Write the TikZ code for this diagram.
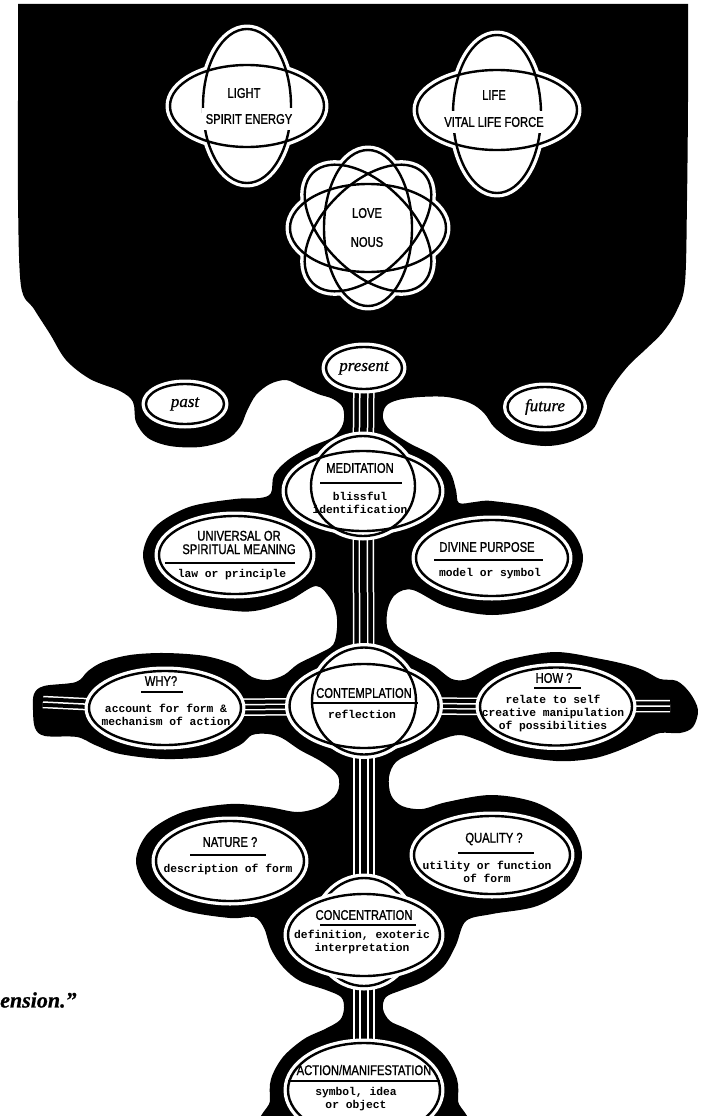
\documentclass[tikz,border=0pt]{standalone}
\usepackage{fontspec}
\usetikzlibrary{shapes.geometric}
\newfontfamily\capfont[FakeStretch=0.8,FakeBold=1.2]{Liberation Sans}
\newfontfamily\typefont{Liberation Mono}
\newfontfamily\handfont[FakeBold=0.8]{Liberation Serif}
\pgfdeclarelayer{bg}
\pgfsetlayers{bg,main}
\begin{document}
\begin{tikzpicture}[x=1pt,y=-1pt,line join=round,
  halo/.style={ellipse,inner sep=0pt,outer sep=0pt,fill=white,draw=white,line width=9pt},
  bubble/.style={halo,line width=3.3pt,double=black,double distance=2.4pt},
  ringline/.style={draw=black,line width=2.4pt},
  head/.style={font=\capfont\fontsize{14}{13.5}\selectfont,align=center,inner sep=0pt},
  body/.style={font=\typefont\bfseries\fontsize{11.3}{13}\selectfont,align=center,inner sep=0pt},
  hand/.style={font=\handfont\itshape\fontsize{17}{19}\selectfont},
  hrule/.style={line width=1.3pt},
  tube/.style={draw=black,line width=6.5pt,preaction={draw=white,line width=21.5pt},
    preaction={draw=black,line width=18.5pt},preaction={draw=white,line width=9.5pt}},
  arm/.style={draw=black,line width=3.5pt,preaction={draw=white,line width=17.5pt},
    preaction={draw=black,line width=14.5pt},preaction={draw=white,line width=6.5pt}},
  tiptube/.style={draw=white,line width=1.5pt,preaction={draw=white,line width=12.5pt},
    preaction={draw=black,line width=9.5pt}}]
\useasboundingbox (0,0) rectangle (701,1116);
%%
%% upper field
\node (light) at (247,106) [halo,minimum width=154,minimum height=82] {};
\node (light-v) at (247,106) [halo,minimum width=88,minimum height=154] {};
\node (life) at (497,110) [halo,minimum width=160,minimum height=80] {};
\node (life-v) at (497,114) [halo,minimum width=88,minimum height=158] {};
\foreach \a/\n in {0/a,45/b,90/c,135/d}
  \node (love-\n) at (368,228) [halo,rotate=\a,minimum width=156,minimum height=88] {};
\draw[ringline] (light.center) ellipse [x radius=77,y radius=41];
\draw[ringline] (light-v.center) ellipse [x radius=44,y radius=77];
\draw[ringline] (life.center) ellipse [x radius=80,y radius=40];
\draw[ringline] (life-v.center) ellipse [x radius=44,y radius=79];
\foreach \a in {0,45,90,135}
  \draw[ringline,rotate around={\a:(love-a.center)}] (love-a.center) ellipse [x radius=78,y radius=44];
\node (light-t) at (244,93) [head] {LIGHT};
\node (light-s) at (249,119) [head,fill=white,inner xsep=4pt,inner ysep=6pt] {SPIRIT ENERGY};
\node (life-t) at (494,95) [head] {LIFE};
\node (life-s) at (494,122) [head,fill=white,inner xsep=4pt,inner ysep=6pt] {VITAL LIFE FORCE};
\node (love-t) at (367,213) [head] {LOVE};
\node (nous-t) at (367,242) [head] {NOUS};
%
\node (present) at (364,368) [bubble,hand,minimum width=76,minimum height=42] {present};
\node (past) at (185,404) [bubble,hand,minimum width=78,minimum height=40] {past};
\node (future) at (545,407) [bubble,hand,minimum width=75,minimum height=40] {future};
%%
%% the tree
\node (meditation) at (363,491) [halo,minimum width=154,minimum height=80] {};
\node (meditation-v) at (363,486) [halo,minimum width=104,minimum height=100] {};
\draw[ringline] (meditation.center) ellipse [x radius=77,y radius=40];
\draw[ringline] (meditation-v.center) ellipse [x radius=52,y radius=50];
\node (meditation-h) at (360,468) [head] {MEDITATION};
\draw[hrule] (320,483) -- (402,483);
\node (meditation-b) at (360,503) [body] {blissful\\identification};
%
\node (universal) at (235,555) [bubble,minimum width=152,minimum height=78] {};
\node (universal-h) at (239,542.5) [head] {UNIVERSAL OR\\SPIRITUAL MEANING};
\draw[hrule] (165,563) -- (295,563);
\node (universal-b) at (232,575) [body] {law or principle};
\node (divine) at (492,558) [bubble,minimum width=152,minimum height=76] {};
\node (divine-h) at (487,547) [head] {DIVINE PURPOSE};
\draw[hrule] (434,560) -- (543,560);
\node (divine-b) at (490,574) [body] {model or symbol};
%
\node (contemplation) at (364,706) [halo,minimum width=149,minimum height=84] {};
\node (contemplation-v) at (364,701) [halo,minimum width=104,minimum height=107] {};
\draw[ringline] (contemplation.center) ellipse [x radius=74.5,y radius=42];
\draw[ringline] (contemplation-v.center) ellipse [x radius=52,y radius=53.5];
\node (contemplation-h) at (364,693) [head] {CONTEMPLATION};
\draw[hrule] (311,703) -- (418,703);
\node (contemplation-b) at (362,714) [body] {reflection};
%
\node (why) at (165,708) [bubble,minimum width=152,minimum height=74] {};
\node (why-h) at (161,681) [head] {WHY?};
\draw[hrule] (141,692) -- (183,692);
\node (why-b) at (166,715) [body] {account for form \&\\mechanism of action};
\node (how) at (556,706.5) [bubble,minimum width=152,minimum height=78] {};
\node (how-h) at (554,678) [head] {HOW ?};
\draw[hrule] (534,688) -- (581,688);
\node (how-b) at (553,713.5) [body] {relate to self\\creative manipulation\\of possibilities};
%
\node (nature) at (230,861) [bubble,minimum width=148,minimum height=80] {};
\node (nature-h) at (230,842) [head] {NATURE ?};
\draw[hrule] (190,855) -- (266,855);
\node (nature-b) at (228,869) [body] {description of form};
\node (quality) at (492,855) [bubble,minimum width=156,minimum height=78] {};
\node (quality-h) at (494,839) [head] {QUALITY ?};
\draw[hrule] (458,853) -- (534,853);
\node (quality-b) at (487,871.5) [body] {utility or function\\of form};
%
\node (concentration-v) at (364,932) [bubble,minimum width=98,minimum height=108] {};
\node (concentration) at (364,935) [bubble,minimum width=152,minimum height=82] {};
\node (concentration-h) at (364,915) [head] {CONCENTRATION};
\draw[hrule] (320,925) -- (416,925);
\node (concentration-b) at (362,942) [body] {definition, exoteric\\interpretation};
%
\node (action) at (364,1090) [bubble,minimum width=152,minimum height=94] {};
\node (action-h) at (364,1070) [head] {ACTION/MANIFESTATION};
\draw[hrule] (288,1081) -- (440,1081);
\node (action-b) at (356,1099.5) [body] {symbol, idea\\or object};
%
\node (ension) at (0,1000) [anchor=west,inner sep=0pt,font=\handfont\bfseries\itshape\fontsize{22}{24}\selectfont] {ension.”};
\coordinate (why-tip) at (43,702);
\coordinate (how-tip) at (670,706);
%%
\begin{pgfonlayer}{bg}
\fill (18,4) -- (688,4) -- plot[smooth,tension=.55] coordinates {(688,4) (688,100) (687,200) (685,282)
  (677,310) (663,332) (646,349) (630,364) (617,380) (606,398) (600,415) (592,430) (570,442) (545,446)
  (515,441) (495,428) (484,413) (470,403) (447,397) (420,397) (398,400) (386,406) (383,418) (390,430)
  (409,443) (434,456) (450,472) (456,490) (459,503) (475,502) (492,501) (538,509) (571,530) (583,558)
  (571,587) (538,607) (492,615) (447,607) (413,590) (396,594) (388,608) (387,627) (394,643) (410,654)
  (434,666) (452,679) (468,679) (490,667) (511,659) (556,652) (601,659) (628,665) (645,671) (660,679)
  (677,681) (690,693) (698,710) (693,727) (680,733) (660,733) (643,740) (615,752) (590,759) (556,761)
  (511,754) (480,741) (460,735) (440,740) (415,752) (396,762) (389,777) (391,795) (402,806) (422,809)
  (447,802) (492,795) (537,803) (570,825) (582,855) (570,885) (537,906) (492,914) (466,921) (456,945)
  (444,966) (425,981) (402,990) (386,997) (383,1009) (390,1021) (405,1028) (424,1038) (445,1056)
  (457,1079) (458,1101) (456,1130) (272,1130) (270,1101) (271,1079) (283,1057) (304,1039) (325,1029)
  (340,1020) (344,1008) (341,997) (326,990) (300,981) (283,967) (271,949) (264,928) (254,917) (230,918)
  (183,910) (149,890) (136,861) (149,832) (183,812) (230,804) (268,807) (298,812) (322,806) (337,793)
  (338,776) (322,762) (300,750) (282,738) (268,734) (252,735) (240,745) (212,756) (165,759) (120,754)
  (95,745) (77,737) (45,736) (35,728) (33,710) (34,694) (44,686) (76,682) (88,671) (103,662) (130,655)
  (165,653) (205,656) (235,665) (252,677) (268,680) (284,675) (298,664) (318,654) (333,645) (337,628)
  (336,612) (330,598) (316,586) (290,600) (260,610) (235,611) (189,603) (155,583) (143,555) (155,527)
  (189,507) (235,499) (260,498) (271,493) (274,475) (288,460) (310,447) (333,437) (343,424) (343,408)
  (333,399) (318,394) (300,386) (286,380) (270,384) (256,395) (247,411) (240,427) (226,440) (200,447)
  (170,446) (148,438) (136,422) (133,402) (120,391) (90,379) (66,360) (50,334) (34,309) (21,286)
  (18,200) (18,100) (18,4)} -- cycle;
\draw[tube] (present) -- (meditation-v);
\draw[tube] (meditation-v) -- (contemplation-v);
\draw[tube] (contemplation-v) -- (concentration-v);
\draw[tube] (concentration-v) -- (action);
\draw[arm] (why) -- (contemplation);
\draw[arm] (contemplation) -- (how);
\draw[tiptube] (why) -- (why-tip);
\draw[tiptube] (how) -- (how-tip);
\end{pgfonlayer}
%
\end{tikzpicture}
\end{document}
